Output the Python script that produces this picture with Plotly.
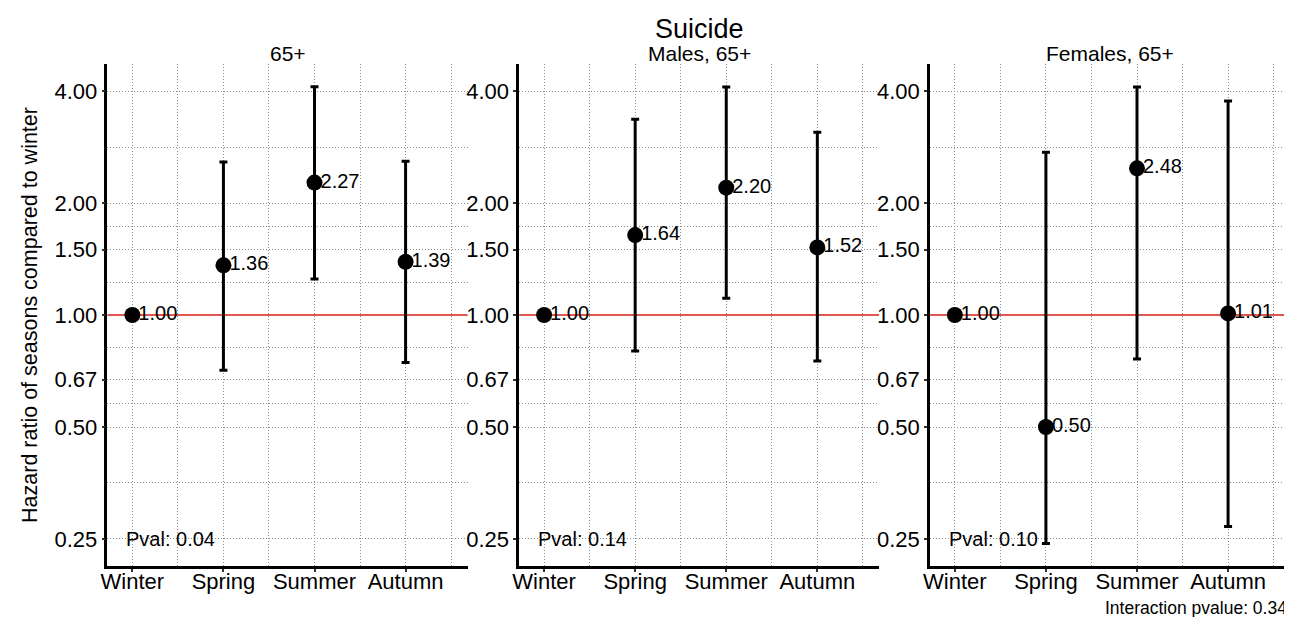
import numpy as np
import plotly.graph_objects as go

seasons = ["Winter", "Spring", "Summer", "Autumn"]
panel_titles = ["65+", "Males, 65+", "Females, 65+"]
pvals = ["Pval: 0.04", "Pval: 0.14", "Pval: 0.10"]

hr_all = [1.00, 1.36, 2.27, 1.39]
lo_all = [1.00, 0.71, 1.25, 0.745]
hi_all = [1.00, 2.58, 4.11, 2.59]

hr_m = [1.00, 1.64, 2.20, 1.52]
lo_m = [1.00, 0.80, 1.11, 0.752]
hi_m = [1.00, 3.36, 4.10, 3.10]

hr_f = [1.00, 0.50, 2.48, 1.01]
lo_f = [1.00, 0.243, 0.762, 0.27]
hi_f = [1.00, 2.74, 4.10, 3.76]

y_ticks = [0.25, 0.50, 0.67, 1.00, 1.50, 2.00, 4.00]
y_minor = [0.3536, 0.579, 0.8185, 1.2247, 1.7321, 2.8284]
x_range = [0.727, 4.68]
ref_value = 1.0

# page offset (body margin)
OX, OY = 8, 8
W, H = 1292 - OX, 617 - OY


def px(x):
    return min(1.0, max(0.0, (x - OX) / W))


def py(y):
    return min(1.0, max(0.0, (H - (y - OY)) / H))


panels = [(hr_all, lo_all, hi_all), (hr_m, lo_m, hi_m), (hr_f, lo_f, hi_f)]
x_px = [(101, 463), (515, 877), (928, 1290)]
y_top, y_bot = 64, 566

fig = go.Figure()
font_family = "Liberation Sans, Arial, sans-serif"
xs = [1, 2, 3, 4]
grid = dict(showgrid=True, gridcolor="#8c8c8c", griddash="1px,2px", gridwidth=1)
tick_style = dict(ticks="outside", ticklen=3, tickwidth=1.5, tickcolor="#333333")

for i, (hr, lo, hi) in enumerate(panels):
    sfx = "" if i == 0 else str(i + 1)
    fig.add_trace(go.Scatter(
        x=x_range, y=[ref_value, ref_value], mode="lines",
        line=dict(color="#e0574f", width=2), hoverinfo="skip",
        xaxis="x" + sfx, yaxis="y" + sfx, showlegend=False,
    ))
    fig.add_trace(go.Scatter(
        x=xs, y=hr, mode="markers",
        marker=dict(size=16, color="black"),
        error_y=dict(type="data", symmetric=False,
                     array=[h - v for h, v in zip(hi, hr)],
                     arrayminus=[v - l for v, l in zip(hr, lo)],
                     color="black", thickness=3, width=4),
        xaxis="x" + sfx, yaxis="y" + sfx, showlegend=False, cliponaxis=False,
    ))
    fig.add_trace(go.Scatter(
        x=xs, y=hr, mode="markers+text",
        marker=dict(size=8, color="rgba(0,0,0,0)"),
        text=[f"{v:.2f}" for v in hr], textposition="middle right",
        textfont=dict(size=20, color="black", family=font_family),
        xaxis="x" + sfx, yaxis="y" + sfx, showlegend=False, cliponaxis=False,
        hoverinfo="skip",
    ))
    x0, x1 = x_px[i]
    fig.layout["xaxis" + sfx] = dict(
        domain=[px(x0), px(x1)], range=x_range, anchor="y" + sfx,
        tickmode="array", tickvals=xs, ticktext=seasons,
        tickfont=dict(size=22, color="black", family=font_family),
        showline=True, linecolor="black", linewidth=2.5,
        minor=dict(tickvals=[1.5, 2.5, 3.5, 4.5], **grid),
        zeroline=False, ticklabelstandoff=-9, **tick_style, **grid,
    )
    fig.layout["yaxis" + sfx] = dict(
        domain=[py(y_bot), py(y_top)], anchor="x" + sfx,
        type="log", range=[np.log10(0.2115), np.log10(4.73)],
        tickmode="array", tickvals=y_ticks, ticktext=[f"{v:.2f}" for v in y_ticks],
        tickfont=dict(size=22, color="black", family=font_family),
        showline=True, linecolor="black", linewidth=2.5,
        minor=dict(tickvals=y_minor, **grid),
        zeroline=False, ticklabelstandoff=0, **tick_style, **grid,
    )
    fig.add_annotation(x=0.91, y=np.log10(0.25), xref="x" + sfx, yref="y" + sfx,
                       text=pvals[i], showarrow=False, xanchor="left", yanchor="middle",
                       font=dict(size=20, color="black", family=font_family))
    fig.add_annotation(x=px((x0 + x1) / 2), y=py(53), xref="paper", yref="paper",
                       text=panel_titles[i], showarrow=False, xanchor="center", yanchor="middle",
                       font=dict(size=21, color="black", family=font_family))

fig.add_annotation(x=px(696), y=py(29), xref="paper", yref="paper",
                   text="Suicide", showarrow=False, xanchor="center", yanchor="middle",
                   font=dict(size=27, color="black", family=font_family))
fig.add_annotation(x=px(23), y=py(315), xref="paper", yref="paper",
                   text="Hazard ratio of seasons compared to winter", textangle=-90,
                   showarrow=False, xanchor="center", yanchor="middle",
                   font=dict(size=21.5, color="black", family=font_family))
fig.add_annotation(x=px(1289), y=py(608), xref="paper", yref="paper",
                   text="Interaction pvalue: 0.34", showarrow=False,
                   xanchor="right", yanchor="middle",
                   font=dict(size=17.5, color="black", family=font_family))

fig.update_layout(width=W, height=H, margin=dict(l=0, r=0, t=0, b=0),
                  plot_bgcolor="white", paper_bgcolor="white",
                  font=dict(family=font_family, color="black"))
fig.write_html("out.html")
